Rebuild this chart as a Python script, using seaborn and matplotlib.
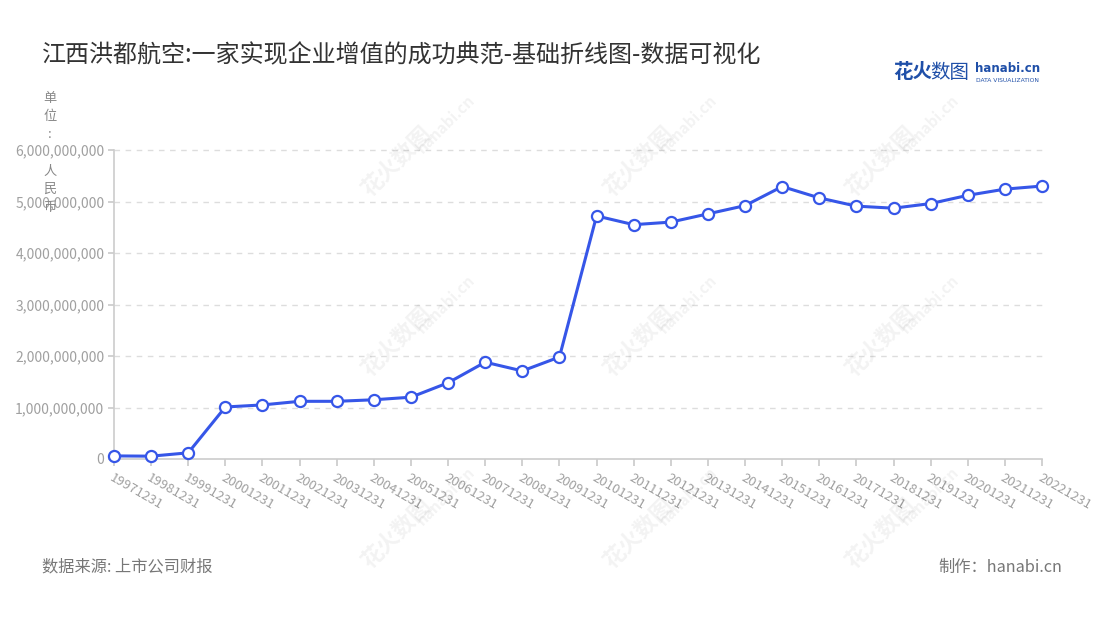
import matplotlib
matplotlib.use('Agg')
import matplotlib.pyplot as plt
import matplotlib.ticker as ticker
import seaborn as sns
import pandas as pd

years = [
    '19971231', '19981231', '19991231', '20001231', '20011231', '20021231',
    '20031231', '20041231', '20051231', '20061231', '20071231', '20081231',
    '20091231', '20101231', '20111231', '20121231', '20131231', '20141231',
    '20151231', '20161231', '20171231', '20181231', '20191231', '20201231',
    '20211231', '20221231',
]
# 增值 (人民币)
values = [
    60_000_000, 55_000_000, 120_000_000, 1_010_000_000, 1_050_000_000,
    1_120_000_000, 1_120_000_000, 1_150_000_000, 1_200_000_000,
    1_480_000_000, 1_880_000_000, 1_710_000_000, 1_980_000_000,
    4_720_000_000, 4_550_000_000, 4_600_000_000, 4_760_000_000,
    4_920_000_000, 5_290_000_000, 5_070_000_000, 4_910_000_000,
    4_870_000_000, 4_960_000_000, 5_120_000_000, 5_240_000_000,
    5_300_000_000,
]
y_ticks = [0, 1e9, 2e9, 3e9, 4e9, 5e9, 6e9]

df = pd.DataFrame({'date': years, 'value': values})
df['pos'] = range(len(df))

sns.set_theme(style="white")
plt.rcParams['font.family'] = ['Noto Sans CJK SC', 'DejaVu Sans']

fig = plt.figure(figsize=(11, 6.2), dpi=100)
ax = fig.add_axes([114 / 1100, 161 / 620, 928 / 1100, 309 / 620])

blue = '#3656e8'
sns.lineplot(data=df, x='pos', y='value', ax=ax, color=blue, linewidth=2.2,
             marker='o', markersize=8, markerfacecolor='white',
             markeredgecolor=blue, markeredgewidth=1.6, zorder=3)

ax.set_xlim(0, len(df) - 1)
ax.set_ylim(0, 6e9)
ax.set_xticks(df['pos'])
ax.set_xticklabels(df['date'], rotation=-30, ha='left', va='top',
                   rotation_mode='anchor', fontsize=9.5, color='#a0a0a0')
ax.set_yticks(y_ticks)
ax.yaxis.set_major_formatter(ticker.FuncFormatter(lambda v, p: f'{int(v):,}'))
ax.tick_params(axis='y', labelsize=10, labelcolor='#a0a0a0', length=4,
               color='#cccccc', left=True, pad=3)
ax.tick_params(axis='x', length=5, color='#cccccc', bottom=True, pad=4)
ax.set_xlabel('')
ax.set_ylabel('')

for v in y_ticks[1:]:
    ax.axhline(v, color='#dddddd', linestyle=(0, (4, 4)), linewidth=1, zorder=1)

for side in ['top', 'right']:
    ax.spines[side].set_visible(False)
for side in ['left', 'bottom']:
    ax.spines[side].set_color('#cccccc')
    ax.spines[side].set_linewidth(1.2)
for line in ax.lines:
    line.set_clip_on(False)

# faint watermarks
for wx in [0.36, 0.58, 0.80]:
    for wy in [0.74, 0.45, 0.14]:
        fig.text(wx, wy, '花火数图', fontsize=16, color='#000000', alpha=0.05,
                 rotation=45, ha='center', va='center', fontweight='bold')
        fig.text(wx + 0.045, wy + 0.06, 'hanabi.cn', fontsize=11, color='#000000',
                 alpha=0.05, rotation=45, ha='center', va='center', fontweight='bold')

fig.text(42 / 1100, 1 - 55 / 620, '江西洪都航空:一家实现企业增值的成功典范-基础折线图-数据可视化',
         fontsize=17.3, color='#333333', ha='left', va='center')

# unit label, stacked one character per line (space gives the gap)
fig.text(50 / 1100, 1 - 153 / 620, '\n'.join('单位: 人民币'), fontsize=9.5,
         color='#888888', ha='center', va='center', linespacing=1.52)

# logo
fig.text(893 / 1100, 1 - 72 / 620, '花火', fontsize=14, color='#1f4fa8',
         fontweight='bold', ha='left', va='center')
fig.text(930 / 1100, 1 - 72 / 620, '数图', fontsize=14, color='#1f4fa8',
         ha='left', va='center')
fig.text(975 / 1100, 1 - 69 / 620, 'hanabi.cn', fontsize=8.5, color='#1f4fa8',
         fontweight='bold', ha='left', va='center', family=['DejaVu Sans'])
fig.text(976 / 1100, 1 - 80 / 620, 'DATA VISUALIZATION', fontsize=4.3,
         color='#1f4fa8', ha='left', va='center', family=['DejaVu Sans'])

fig.text(42 / 1100, 1 - 567 / 620, '数据来源: 上市公司财报', fontsize=11.7,
         color='#777777', ha='left', va='center')
fig.text(1062 / 1100, 1 - 567 / 620, '制作：hanabi.cn', fontsize=11.7,
         color='#777777', ha='right', va='center')

fig.savefig('out.png', dpi=100)
